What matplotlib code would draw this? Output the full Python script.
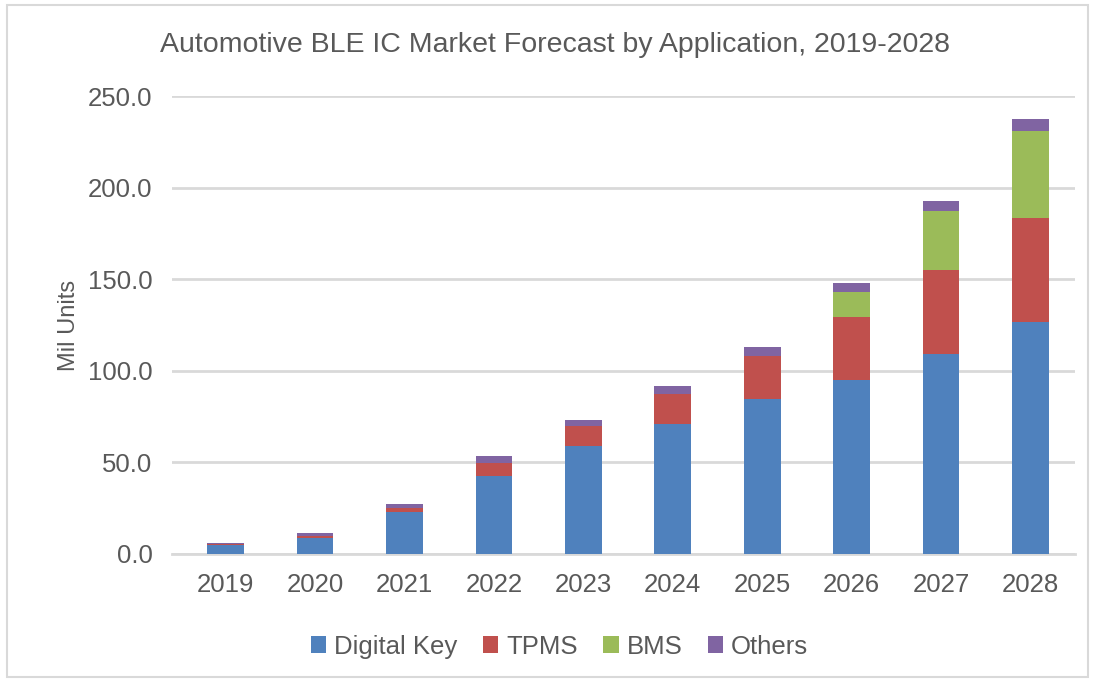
import matplotlib
matplotlib.use("Agg")
import matplotlib.pyplot as plt
import numpy as np
from matplotlib.patches import Rectangle

years = ["2019", "2020", "2021", "2022", "2023", "2024", "2025", "2026", "2027", "2028"]
digital_key = [4.9, 8.5, 22.7, 42.8, 58.9, 71.2, 84.4, 95.0, 108.9, 126.5]
tpms = [0.3, 1.1, 2.2, 7.1, 11.1, 16.1, 23.7, 34.2, 46.0, 57.1]
bms = [0.0, 0.0, 0.0, 0.0, 0.0, 0.0, 0.0, 13.8, 32.1, 47.3]
others = [0.6, 1.8, 2.5, 3.6, 3.4, 4.3, 5.0, 5.1, 5.8, 6.3]

series = [("Digital Key", digital_key, "#4F81BD"),
          ("TPMS", tpms, "#C0504D"),
          ("BMS", bms, "#9BBB59"),
          ("Others", others, "#8064A2")]

plt.rcParams['font.family'] = ['Liberation Sans', 'DejaVu Sans']
txt = "#595959"

fig = plt.figure(figsize=(10.95, 6.82), dpi=100)
ax = fig.add_axes([0.157, 0.1877, 0.825, 0.6715])

x = np.arange(len(years))
bottom = np.zeros(len(years))
for name, vals, col in series:
    v = np.array(vals)
    ax.bar(x, v, 0.41, bottom=bottom, color=col, label=name,
           edgecolor="none", zorder=3)
    bottom += v

ax.set_ylim(0, 250)
ax.set_xlim(-0.6, 9.5)
ax.set_yticks(np.arange(0, 251, 50))
ax.set_yticklabels([f"{t:.1f}" for t in np.arange(0, 251, 50)])
ax.set_xticks(x)
ax.set_xticklabels(years)
ax.tick_params(axis="both", length=0, labelsize=18.5, colors=txt)
ax.tick_params(axis="y", pad=14)
ax.tick_params(axis="x", pad=14)
ax.grid(axis="y", color="#D9D9D9", linewidth=2, zorder=0)
for s in ["top", "right", "left"]:
    ax.spines[s].set_visible(False)
ax.spines["bottom"].set_color("#D9D9D9")
ax.spines["bottom"].set_linewidth(2)

ax.set_ylabel("Mil Units", fontsize=17, color=txt, labelpad=6)
fig.text(0.507, 0.934, "Automotive BLE IC Market Forecast by Application, 2019-2028",
         ha="center", va="center", fontsize=20.5, color=txt)

fig.legend(loc="center", bbox_to_anchor=(0.511, 0.052), ncol=4, frameon=False,
           fontsize=18.5, handlelength=0.6, handleheight=0.6, handletextpad=0.3,
           columnspacing=1.0, labelcolor=txt)

fig.patches.append(Rectangle((0.006, 0.008), 0.988, 0.985, transform=fig.transFigure,
                             fill=False, edgecolor="#D9D9D9", linewidth=1.5))

fig.savefig("out.png", dpi=100)
